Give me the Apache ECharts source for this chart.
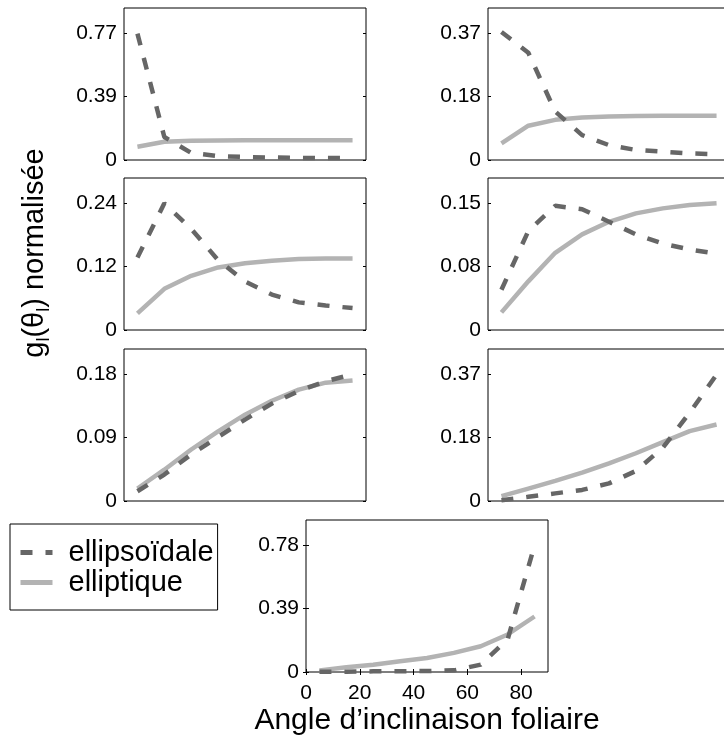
<!DOCTYPE html>
<html>
<head>
<meta charset="utf-8">
<script src="https://cdn.jsdelivr.net/npm/echarts@6/dist/echarts.min.js"></script>
<style>
  html, body { margin: 0; padding: 0; background: #fff; }
  #chart { width: 724px; height: 738px; }
</style>
</head>
<body>
<div id="chart"></div>
<script>
// leaf inclination angle (degrees), same for every panel
const angles = [5, 15, 25, 35, 45, 55, 65, 75, 85];

// dashed curves (ellipsoïdale), one array per panel
const ellipsoidale1 = [0.77, 0.14, 0.043, 0.024, 0.018, 0.015, 0.013, 0.012, 0.012];
const ellipsoidale2 = [0.37, 0.31, 0.14, 0.072, 0.043, 0.029, 0.024, 0.019, 0.017];
const ellipsoidale3 = [0.139, 0.243, 0.194, 0.134, 0.093, 0.068, 0.053, 0.047, 0.042];
const ellipsoidale4 = [0.048, 0.118, 0.148, 0.144, 0.129, 0.114, 0.103, 0.096, 0.091];
const ellipsoidale5 = [0.014, 0.038, 0.067, 0.092, 0.117, 0.140, 0.158, 0.172, 0.182];
const ellipsoidale6 = [0.002, 0.012, 0.022, 0.032, 0.051, 0.087, 0.154, 0.255, 0.365];
const ellipsoidale7 = [0.001, 0.002, 0.004, 0.005, 0.006, 0.010, 0.045, 0.20, 0.776];

// solid curves (elliptique)
const elliptique1 = [0.081, 0.111, 0.117, 0.119, 0.12, 0.12, 0.12, 0.12, 0.12];
const elliptique2 = [0.048, 0.099, 0.116, 0.123, 0.126, 0.127, 0.128, 0.128, 0.128];
const elliptique3 = [0.032, 0.079, 0.104, 0.120, 0.128, 0.133, 0.136, 0.137, 0.137];
const elliptique4 = [0.021, 0.058, 0.092, 0.114, 0.129, 0.139, 0.145, 0.149, 0.151];
const elliptique5 = [0.018, 0.045, 0.074, 0.100, 0.124, 0.144, 0.160, 0.170, 0.173];
const elliptique6 = [0.014, 0.036, 0.058, 0.082, 0.109, 0.138, 0.170, 0.202, 0.221];
const elliptique7 = [0.010, 0.029, 0.045, 0.066, 0.086, 0.117, 0.158, 0.23, 0.34];

// y ticks: value of the top tick, and the printed labels [0, middle, top]
const yTickTop = [0.772, 0.366, 0.243, 0.151, 0.182, 0.366, 0.776];
const yTickLabels = [
    ['0', '0.39', '0.77'],
    ['0', '0.18', '0.37'],
    ['0', '0.12', '0.24'],
    ['0', '0.08', '0.15'],
    ['0', '0.09', '0.18'],
    ['0', '0.18', '0.37'],
    ['0', '0.39', '0.78']
];
const xTickValues = [0, 20, 40, 60, 80];

const dashedSets = [ellipsoidale1, ellipsoidale2, ellipsoidale3, ellipsoidale4, ellipsoidale5, ellipsoidale6, ellipsoidale7];
const solidSets = [elliptique1, elliptique2, elliptique3, elliptique4, elliptique5, elliptique6, elliptique7];

const FONT = 'Liberation Sans, Arial, Helvetica, sans-serif';
const DARK = '#666666';
const LIGHT = '#b3b3b3';

// panel positions (plot area)
const panels = [
    {left: 124, top: 8},
    {left: 488, top: 8},
    {left: 124, top: 178},
    {left: 488, top: 178},
    {left: 124, top: 349},
    {left: 488, top: 349},
    {left: 306, top: 520}
];

let grids = [], xAxes = [], yAxes = [], series = [];

panels.forEach((p, i) => {
    const last = i === panels.length - 1;
    grids.push({
        left: p.left, top: p.top, width: 242, height: 152,
        show: true, borderColor: '#000', borderWidth: 1,
        backgroundColor: 'transparent',
        containLabel: false, outerBoundsMode: 'none'
    });

    const xi = xAxes.length;
    xAxes.push({
        gridIndex: i, type: 'value', min: 0, max: 90,
        axisLine: {show: false},
        splitLine: {show: false},
        axisTick: {
            show: last, inside: true, length: 3,
            customValues: xTickValues,
            lineStyle: {color: '#000'}
        },
        axisLabel: {
            show: last, customValues: xTickValues,
            color: '#000', fontSize: 21, fontFamily: FONT, margin: 11
        },
        name: last ? 'Angle d\u2019inclinaison foliaire' : '',
        nameLocation: 'middle', nameGap: 34,
        nameTextStyle: {color: '#000', fontSize: 30, fontFamily: FONT}
    });
    if (last) {
        xAxes.push({
            gridIndex: i, type: 'value', min: 0, max: 90, position: 'top',
            axisLine: {show: false}, splitLine: {show: false},
            axisLabel: {show: false},
            axisTick: {inside: true, length: 3, customValues: xTickValues, lineStyle: {color: '#000'}}
        });
    }

    const top = yTickTop[i];
    const ticks = [0, top / 2, top];
    const labels = yTickLabels[i];
    const yi = yAxes.length;
    yAxes.push({
        gridIndex: i, type: 'value', min: 0, max: top * 1.2,
        axisLine: {show: false}, splitLine: {show: false},
        axisTick: {inside: true, length: 3, customValues: ticks, lineStyle: {color: '#000'}},
        axisLabel: {
            customValues: ticks, color: '#000', fontSize: 21, fontFamily: FONT, margin: 7,
            formatter: function (v) {
                const k = ticks.findIndex(t => Math.abs(t - v) < 1e-9);
                return k >= 0 ? labels[k] : '';
            }
        }
    });
    yAxes.push({
        gridIndex: i, type: 'value', min: 0, max: top * 1.2, position: 'right',
        axisLine: {show: false}, splitLine: {show: false},
        axisLabel: {show: false},
        axisTick: {inside: true, length: 3, customValues: ticks, lineStyle: {color: '#000'}}
    });

    series.push({
        name: 'elliptique', type: 'line',
        xAxisIndex: xi, yAxisIndex: yi,
        data: angles.map((a, k) => [a, solidSets[i][k]]),
        symbol: 'none', z: 2,
        lineStyle: {color: LIGHT, width: 4.5},
        itemStyle: {color: LIGHT}
    });
    series.push({
        name: 'ellipsoïdale', type: 'line',
        xAxisIndex: xi, yAxisIndex: yi,
        data: angles.map((a, k) => [a, dashedSets[i][k]]),
        symbol: 'none', z: 3,
        lineStyle: {color: DARK, width: 4.5, type: [12, 13]},
        itemStyle: {color: DARK}
    });
});

let chart = echarts.init(document.getElementById('chart'));
let option = {
    animation: false,
    backgroundColor: '#fff',
    grid: grids,
    xAxis: xAxes,
    yAxis: yAxes,
    series: series,
    legend: {
        data: ['ellipsoïdale', 'elliptique'],
        orient: 'vertical',
        left: 10, top: 524,
        padding: [14, 4, 13, 8],
        itemGap: 1, itemWidth: 32, itemHeight: 14,
        borderColor: '#000', borderWidth: 1, borderRadius: 0,
        backgroundColor: '#fff',
        selectedMode: false,
        itemStyle: {opacity: 0},
        lineStyle: {width: 5},
        textStyle: {color: '#000', fontSize: 29, fontFamily: FONT, padding: [0, 0, 0, 11]}
    },
    graphic: [{
        type: 'text',
        x: 35, y: 253,
        rotation: Math.PI / 2,
        style: {
            text: '{m|g}{s|l}{m|(\u03b8}{s|l}{m|) normalisée}',
            align: 'center', verticalAlign: 'middle',
            fill: '#000',
            rich: {
                m: {fontSize: 29, fontFamily: FONT, lineHeight: 36, verticalAlign: 'middle'},
                s: {fontSize: 18, fontFamily: FONT, lineHeight: 18, verticalAlign: 'bottom'}
            }
        }
    }]
};
chart.setOption(option);
</script>
</body>
</html>
